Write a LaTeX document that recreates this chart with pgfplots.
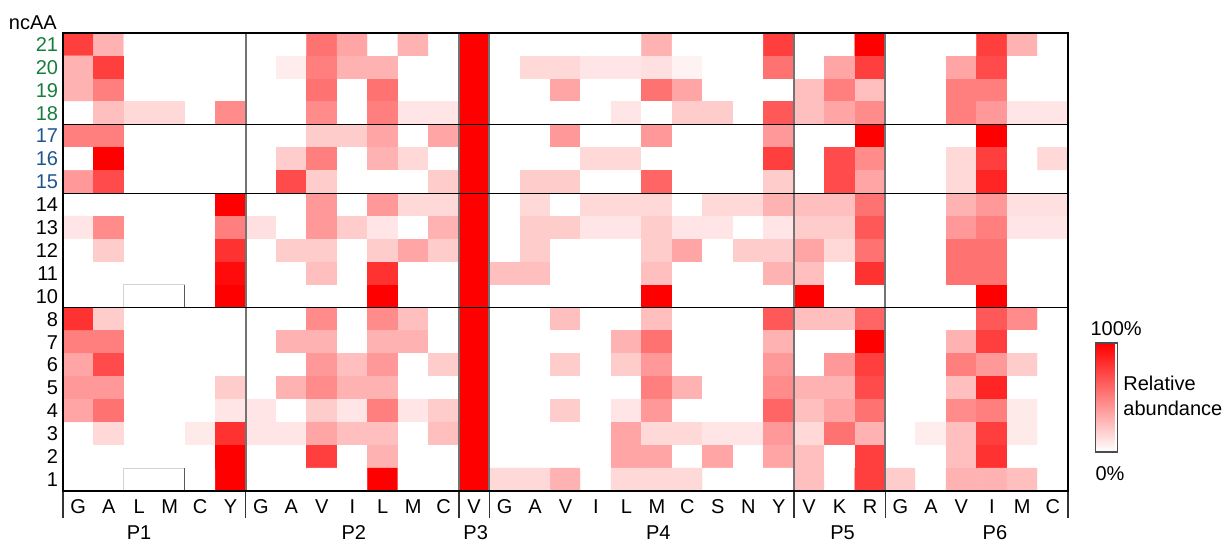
\documentclass[border=0pt]{standalone}
\usepackage{pgfplots}
\pgfplotsset{compat=1.18}
\usetikzlibrary{calc}
\usepackage{fontspec}
\setmainfont{Liberation Sans}
\definecolor{ncgreen}{RGB}{22,125,60}
\definecolor{ncblue}{RGB}{30,85,145}
\definecolor{sepgray}{RGB}{115,115,115}
\begin{document}
\begin{tikzpicture}[font=\fontsize{15}{18}\selectfont]
\useasboundingbox (-47.25pt,-38.25pt) rectangle (874.5pt,368.25pt);
\begin{axis}[
  at={(0pt,0pt)}, anchor=south west,
  scale only axis, width=753.75pt, height=343.5pt,
  xmin=-0.5, xmax=32.5, ymin=-0.5, ymax=19.5,
  enlargelimits=false, clip=false, axis on top,
  axis line style={black, line width=1pt},
  colormap={redwhite}{rgb255=(255,255,255) rgb255=(255,0,0)},
  point meta min=0, point meta max=1,
  xtick={0,...,32}, ytick={0,...,19},
  xticklabels={G,A,L,M,C,Y,G,A,V,I,L,M,C,V,G,A,V,I,L,M,C,S,N,Y,V,K,R,G,A,V,I,M,C},
  yticklabels={1,2,3,4,5,6,7,8,10,11,12,13,14,\textcolor{ncblue}{15},\textcolor{ncblue}{16},\textcolor{ncblue}{17},\textcolor{ncgreen}{18},\textcolor{ncgreen}{19},\textcolor{ncgreen}{20},\textcolor{ncgreen}{21}},
  major tick length=0pt,
  every tick label/.append style={font=\fontsize{15}{18}\selectfont},
  xticklabel style={anchor=center, yshift=-12pt},
  yticklabel style={anchor=east, inner xsep=3.5pt},
  colorbar,
  colorbar style={at={($(parent axis.south east)+(12pt,111pt)$)}, anchor=north west,
    scale only axis, width=16.5pt, height=81.75pt, ytick=\empty,
    axis line style={draw=gray!60!black, line width=1.2pt}},
]
\addplot[matrix plot*, mesh/cols=33, point meta=explicit] table[row sep=\\, header=false, x expr={\coordindex-33*floor((\coordindex+0.5)/33)}, y expr={19-floor((\coordindex+0.5)/33)}, meta index=0] {
0.75 \\ 0.3 \\ 0 \\ 0 \\ 0 \\ 0 \\ 0 \\ 0 \\ 0.55 \\ 0.35 \\ 0 \\ 0.3 \\ 0 \\ 1 \\ 0 \\ 0 \\ 0 \\ 0 \\ 0 \\ 0.3 \\ 0 \\ 0 \\ 0 \\ 0.75 \\ 0 \\ 0 \\ 1 \\ 0 \\ 0 \\ 0 \\ 0.75 \\ 0.3 \\ 0 \\
0.3 \\ 0.75 \\ 0 \\ 0 \\ 0 \\ 0 \\ 0 \\ 0.07 \\ 0.5 \\ 0.3 \\ 0.3 \\ 0 \\ 0 \\ 1 \\ 0 \\ 0.15 \\ 0.15 \\ 0.1 \\ 0.1 \\ 0.12 \\ 0.05 \\ 0 \\ 0 \\ 0.55 \\ 0 \\ 0.35 \\ 0.75 \\ 0 \\ 0 \\ 0.35 \\ 0.7 \\ 0 \\ 0 \\
0.3 \\ 0.5 \\ 0 \\ 0 \\ 0 \\ 0 \\ 0 \\ 0 \\ 0.55 \\ 0 \\ 0.55 \\ 0 \\ 0 \\ 1 \\ 0 \\ 0 \\ 0.35 \\ 0 \\ 0 \\ 0.55 \\ 0.35 \\ 0 \\ 0 \\ 0 \\ 0.25 \\ 0.5 \\ 0.25 \\ 0 \\ 0 \\ 0.5 \\ 0.5 \\ 0 \\ 0 \\
0 \\ 0.25 \\ 0.15 \\ 0.15 \\ 0 \\ 0.45 \\ 0 \\ 0 \\ 0.45 \\ 0 \\ 0.5 \\ 0.1 \\ 0.1 \\ 1 \\ 0 \\ 0 \\ 0 \\ 0 \\ 0.1 \\ 0 \\ 0.2 \\ 0.2 \\ 0 \\ 0.65 \\ 0.25 \\ 0.35 \\ 0.45 \\ 0 \\ 0 \\ 0.5 \\ 0.4 \\ 0.1 \\ 0.1 \\
0.5 \\ 0.5 \\ 0 \\ 0 \\ 0 \\ 0 \\ 0 \\ 0 \\ 0.2 \\ 0.2 \\ 0.35 \\ 0 \\ 0.35 \\ 1 \\ 0 \\ 0 \\ 0.4 \\ 0 \\ 0 \\ 0.4 \\ 0 \\ 0 \\ 0 \\ 0.4 \\ 0 \\ 0 \\ 1 \\ 0 \\ 0 \\ 0 \\ 1 \\ 0 \\ 0 \\
0 \\ 1 \\ 0 \\ 0 \\ 0 \\ 0 \\ 0 \\ 0.2 \\ 0.5 \\ 0 \\ 0.3 \\ 0.15 \\ 0 \\ 1 \\ 0 \\ 0 \\ 0 \\ 0.15 \\ 0.15 \\ 0 \\ 0 \\ 0 \\ 0 \\ 0.75 \\ 0 \\ 0.7 \\ 0.45 \\ 0 \\ 0 \\ 0.15 \\ 0.75 \\ 0 \\ 0.15 \\
0.4 \\ 0.7 \\ 0 \\ 0 \\ 0 \\ 0 \\ 0 \\ 0.7 \\ 0.2 \\ 0 \\ 0 \\ 0 \\ 0.2 \\ 1 \\ 0 \\ 0.2 \\ 0.2 \\ 0 \\ 0 \\ 0.6 \\ 0 \\ 0 \\ 0 \\ 0.2 \\ 0 \\ 0.7 \\ 0.35 \\ 0 \\ 0 \\ 0.15 \\ 0.85 \\ 0 \\ 0 \\
0 \\ 0 \\ 0 \\ 0 \\ 0 \\ 1 \\ 0 \\ 0 \\ 0.4 \\ 0 \\ 0.4 \\ 0.15 \\ 0.15 \\ 1 \\ 0 \\ 0.15 \\ 0 \\ 0.15 \\ 0.15 \\ 0.15 \\ 0 \\ 0.15 \\ 0.15 \\ 0.3 \\ 0.25 \\ 0.25 \\ 0.55 \\ 0 \\ 0 \\ 0.3 \\ 0.4 \\ 0.12 \\ 0.12 \\
0.1 \\ 0.45 \\ 0 \\ 0 \\ 0 \\ 0.5 \\ 0.12 \\ 0 \\ 0.4 \\ 0.2 \\ 0.1 \\ 0 \\ 0.3 \\ 1 \\ 0 \\ 0.2 \\ 0.2 \\ 0.1 \\ 0.1 \\ 0.2 \\ 0.1 \\ 0.1 \\ 0 \\ 0.1 \\ 0.2 \\ 0.2 \\ 0.65 \\ 0 \\ 0 \\ 0.4 \\ 0.5 \\ 0.1 \\ 0.1 \\
0 \\ 0.2 \\ 0 \\ 0 \\ 0 \\ 0.8 \\ 0 \\ 0.2 \\ 0.2 \\ 0 \\ 0.2 \\ 0.35 \\ 0.2 \\ 1 \\ 0 \\ 0.2 \\ 0 \\ 0 \\ 0 \\ 0.2 \\ 0.35 \\ 0 \\ 0.2 \\ 0.2 \\ 0.35 \\ 0.15 \\ 0.55 \\ 0 \\ 0 \\ 0.55 \\ 0.55 \\ 0 \\ 0 \\
0 \\ 0 \\ 0 \\ 0 \\ 0 \\ 0.95 \\ 0 \\ 0 \\ 0.25 \\ 0 \\ 0.8 \\ 0 \\ 0 \\ 1 \\ 0.25 \\ 0.25 \\ 0 \\ 0 \\ 0 \\ 0.25 \\ 0 \\ 0 \\ 0 \\ 0.3 \\ 0.25 \\ 0 \\ 0.8 \\ 0 \\ 0 \\ 0.55 \\ 0.55 \\ 0 \\ 0 \\
0 \\ 0 \\ 0 \\ 0 \\ 0 \\ 1 \\ 0 \\ 0 \\ 0 \\ 0 \\ 1 \\ 0 \\ 0 \\ 1 \\ 0 \\ 0 \\ 0 \\ 0 \\ 0 \\ 1 \\ 0 \\ 0 \\ 0 \\ 0 \\ 1 \\ 0 \\ 0 \\ 0 \\ 0 \\ 0 \\ 1 \\ 0 \\ 0 \\
0.8 \\ 0.2 \\ 0 \\ 0 \\ 0 \\ 0 \\ 0 \\ 0 \\ 0.45 \\ 0 \\ 0.45 \\ 0.25 \\ 0 \\ 1 \\ 0 \\ 0 \\ 0.25 \\ 0 \\ 0 \\ 0.25 \\ 0 \\ 0 \\ 0 \\ 0.65 \\ 0.25 \\ 0.25 \\ 0.6 \\ 0 \\ 0 \\ 0 \\ 0.65 \\ 0.45 \\ 0 \\
0.5 \\ 0.5 \\ 0 \\ 0 \\ 0 \\ 0 \\ 0 \\ 0.3 \\ 0.3 \\ 0 \\ 0.3 \\ 0.3 \\ 0 \\ 1 \\ 0 \\ 0 \\ 0 \\ 0 \\ 0.3 \\ 0.55 \\ 0 \\ 0 \\ 0 \\ 0.3 \\ 0 \\ 0 \\ 1 \\ 0 \\ 0 \\ 0.3 \\ 0.75 \\ 0 \\ 0 \\
0.35 \\ 0.7 \\ 0 \\ 0 \\ 0 \\ 0 \\ 0 \\ 0 \\ 0.4 \\ 0.25 \\ 0.4 \\ 0 \\ 0.2 \\ 1 \\ 0 \\ 0 \\ 0.2 \\ 0 \\ 0.2 \\ 0.4 \\ 0 \\ 0 \\ 0 \\ 0.4 \\ 0 \\ 0.4 \\ 0.75 \\ 0 \\ 0 \\ 0.5 \\ 0.4 \\ 0.2 \\ 0 \\
0.4 \\ 0.4 \\ 0 \\ 0 \\ 0 \\ 0.2 \\ 0 \\ 0.3 \\ 0.45 \\ 0.3 \\ 0.3 \\ 0 \\ 0 \\ 1 \\ 0 \\ 0 \\ 0 \\ 0 \\ 0 \\ 0.5 \\ 0.3 \\ 0 \\ 0 \\ 0.45 \\ 0.3 \\ 0.3 \\ 0.7 \\ 0 \\ 0 \\ 0.25 \\ 0.85 \\ 0 \\ 0 \\
0.35 \\ 0.55 \\ 0 \\ 0 \\ 0 \\ 0.1 \\ 0.1 \\ 0 \\ 0.2 \\ 0.1 \\ 0.5 \\ 0.1 \\ 0.2 \\ 1 \\ 0 \\ 0 \\ 0.2 \\ 0 \\ 0.1 \\ 0.4 \\ 0 \\ 0 \\ 0 \\ 0.6 \\ 0.25 \\ 0.35 \\ 0.55 \\ 0 \\ 0 \\ 0.45 \\ 0.5 \\ 0.08 \\ 0 \\
0 \\ 0.15 \\ 0 \\ 0 \\ 0.08 \\ 0.8 \\ 0.1 \\ 0.1 \\ 0.35 \\ 0.25 \\ 0.25 \\ 0 \\ 0.25 \\ 1 \\ 0 \\ 0 \\ 0 \\ 0 \\ 0.35 \\ 0.15 \\ 0.15 \\ 0.1 \\ 0.1 \\ 0.4 \\ 0.15 \\ 0.55 \\ 0.3 \\ 0 \\ 0.07 \\ 0.25 \\ 0.75 \\ 0.08 \\ 0 \\
0 \\ 0 \\ 0 \\ 0 \\ 0 \\ 1 \\ 0 \\ 0 \\ 0.75 \\ 0 \\ 0.3 \\ 0 \\ 0 \\ 1 \\ 0 \\ 0 \\ 0 \\ 0 \\ 0.35 \\ 0.35 \\ 0 \\ 0.35 \\ 0 \\ 0.35 \\ 0.25 \\ 0 \\ 0.75 \\ 0 \\ 0 \\ 0.25 \\ 0.8 \\ 0 \\ 0 \\
0 \\ 0 \\ 0 \\ 0 \\ 0 \\ 1 \\ 0 \\ 0 \\ 0 \\ 0 \\ 1 \\ 0 \\ 0 \\ 1 \\ 0.15 \\ 0.15 \\ 0.3 \\ 0 \\ 0.15 \\ 0.15 \\ 0.15 \\ 0 \\ 0 \\ 0 \\ 0.25 \\ 0 \\ 0.75 \\ 0.2 \\ 0 \\ 0.3 \\ 0.3 \\ 0.25 \\ 0 \\
};
% group separators inside the map
\draw[sepgray, line width=1.3pt] (axis cs:5.5,-0.5) -- (axis cs:5.5,19.5);
\draw[sepgray, line width=1.3pt] (axis cs:12.5,-0.5) -- (axis cs:12.5,19.5);
\draw[sepgray, line width=1.3pt] (axis cs:13.5,-0.5) -- (axis cs:13.5,19.5);
\draw[sepgray, line width=1.3pt] (axis cs:23.5,-0.5) -- (axis cs:23.5,19.5);
\draw[sepgray, line width=1.3pt] (axis cs:26.5,-0.5) -- (axis cs:26.5,19.5);
\draw[sepgray, line width=1.3pt] (axis cs:32.5,-0.5) -- (axis cs:32.5,19.5);
% P1 artefact boxes
\draw[gray!35, line width=0.8pt] (axis cs:1.5,7.5) -- (axis cs:1.5,8.5) -- (axis cs:3.5,8.5);
\draw[gray!70!black, line width=1pt] (axis cs:3.5,7.5) -- (axis cs:3.5,8.5);
\draw[gray!35, line width=0.8pt] (axis cs:1.5,-0.5) -- (axis cs:1.5,0.5) -- (axis cs:3.5,0.5);
\draw[gray!70!black, line width=1pt] (axis cs:3.5,-0.5) -- (axis cs:3.5,0.5);
% block dividers
\draw[black, line width=1pt] (axis cs:-0.5,7.5) -- (axis cs:32.5,7.5);
\draw[black, line width=1pt] (axis cs:-0.5,12.5) -- (axis cs:32.5,12.5);
\draw[black, line width=1pt] (axis cs:-0.5,15.5) -- (axis cs:32.5,15.5);
% separators under the axis
\draw[black!80, line width=1pt] (axis cs:-0.5,-0.5) -- ++(0pt,-20.25pt);
\draw[black!80, line width=1pt] (axis cs:5.5,-0.5) -- ++(0pt,-20.25pt);
\draw[black!80, line width=1pt] (axis cs:12.5,-0.5) -- ++(0pt,-20.25pt);
\draw[black!80, line width=1pt] (axis cs:13.5,-0.5) -- ++(0pt,-20.25pt);
\draw[black!80, line width=1pt] (axis cs:23.5,-0.5) -- ++(0pt,-20.25pt);
\draw[black!80, line width=1pt] (axis cs:26.5,-0.5) -- ++(0pt,-20.25pt);
\draw[black!80, line width=1pt] (axis cs:32.5,-0.5) -- ++(0pt,-20.25pt);
% group labels
\node[anchor=center] at ([yshift=-31.5pt]axis cs:2.0,-0.5) {P1};
\node[anchor=center] at ([yshift=-31.5pt]axis cs:9.05,-0.5) {P2};
\node[anchor=center] at ([yshift=-31.5pt]axis cs:13.05,-0.5) {P3};
\node[anchor=center] at ([yshift=-31.5pt]axis cs:19.05,-0.5) {P4};
\node[anchor=center] at ([yshift=-31.5pt]axis cs:25.1,-0.5) {P5};
\node[anchor=center] at ([yshift=-31.5pt]axis cs:30.1,-0.5) {P6};
% corner title
\node[anchor=east, inner sep=0pt] at ([xshift=-4.5pt,yshift=7.5pt]axis cs:-0.5,19.5) {ncAA};
% colour bar texts
\node at (axis cs:34.08,6.57) {100\%};
\node at (axis cs:33.88,0.24) {0\%};
\node[anchor=west, align=left, inner sep=0pt, font=\fontsize{15}{18.75}\selectfont] at (axis cs:34.31,3.67) {Relative\\abundance};
\end{axis}
\end{tikzpicture}
\end{document}
